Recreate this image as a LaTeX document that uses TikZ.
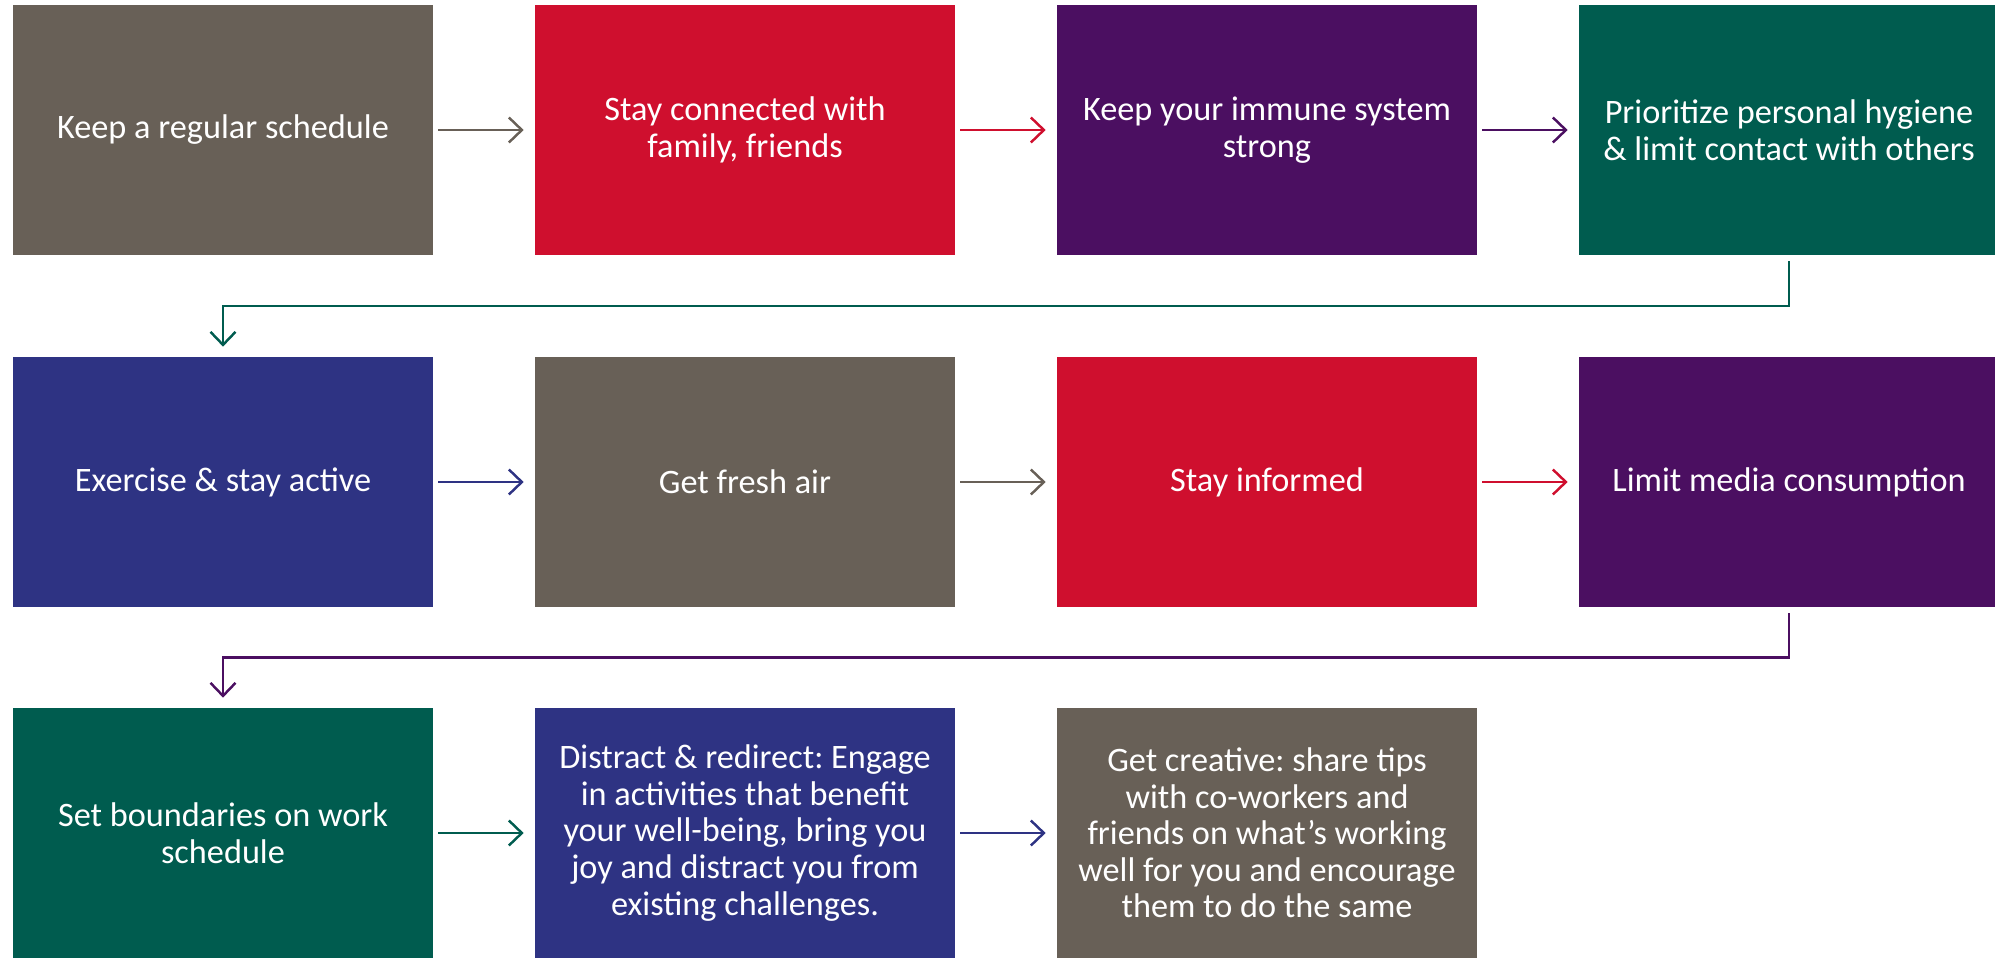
\documentclass[tikz,border=0pt]{standalone}
\usepackage{fontspec}
\setmainfont{Carlito}
\usetikzlibrary{arrows.meta,calc}

\definecolor{stone}{RGB}{104,96,87}
\definecolor{crimson}{RGB}{207,15,46}
\definecolor{plum}{RGB}{75,15,97}
\definecolor{pine}{RGB}{0,92,79}
\definecolor{navy}{RGB}{46,51,131}

\frenchspacing
\begin{document}
\begin{tikzpicture}[
    tip/.style={
        rectangle,
        inner sep=0pt,
        minimum width=8.4cm,
        minimum height=5cm,
        text=white,
        font=\fontsize{19.5}{20.8}\selectfont,
        align=center
    },
    arrow/.style={-{Straight Barb[length=0.26cm,width=0.5cm]}, line width=1.4pt,
        shorten <=0.1cm, shorten >=0.22cm},
    turn/.style={-{Straight Barb[length=0.26cm,width=0.5cm]}, line width=1.4pt,
        shorten <=0.12cm, shorten >=0.2cm},
]
\useasboundingbox (0,0) rectangle (39.9,-19.14);

% Row 1
\node[tip, fill=stone] (sched) at (4.46,-2.6) {Keep a regular schedule};
\node[tip, fill=crimson] (connect) at (14.9,-2.6) {Stay connected with\\family, friends};
\node[tip, fill=plum] (immune) at (25.34,-2.6) {Keep your immune system\\strong};
\node[tip, fill=pine] (hygiene) at (35.78,-2.6) {Prioritize personal hygiene\\\& limit contact with others};

% Row 2
\node[tip, fill=navy] (exercise) at (4.46,-9.64) {Exercise \& stay active};
\node[tip, fill=stone] (air) at (14.9,-9.64) {Get fresh air};
\node[tip, fill=crimson] (informed) at (25.34,-9.64) {Stay informed};
\node[tip, fill=plum] (media) at (35.78,-9.64) {Limit media consumption};

% Row 3
\node[tip, fill=pine] (bounds) at (4.46,-16.66) {Set boundaries on work\\schedule};
\node[tip, fill=navy] (distract) at (14.9,-16.66)
{Distract \& redirect: Engage\\in activities that benefit\\your well-being, bring you\\joy and distract you from\\existing challenges.};
\node[tip, fill=stone] (creative) at (25.34,-16.66)
{Get creative: share tips\\with co-workers and\\friends on what’s working\\well for you and encourage\\them to do the same};

% Arrows
\draw[arrow, stone] (sched) -- (connect);
\draw[arrow, crimson] (connect) -- (immune);
\draw[arrow, plum] (immune) -- (hygiene);

\draw[arrow, navy] (exercise) -- (air);
\draw[arrow, stone] (air) -- (informed);
\draw[arrow, crimson] (informed) -- (media);

\draw[arrow, pine] (bounds) -- (distract);
\draw[arrow, navy] (distract) -- (creative);

% Row turns
\coordinate (turnA) at ($(hygiene.south)!0.5!(exercise.north)$);
\coordinate (turnB) at ($(media.south)!0.5!(bounds.north)$);
\draw[turn, pine] (hygiene.south) -- (hygiene.south |- turnA) -| (exercise.north);
\draw[turn, plum] (media.south) -- (media.south |- turnB) -| (bounds.north);

\end{tikzpicture}
\end{document}
